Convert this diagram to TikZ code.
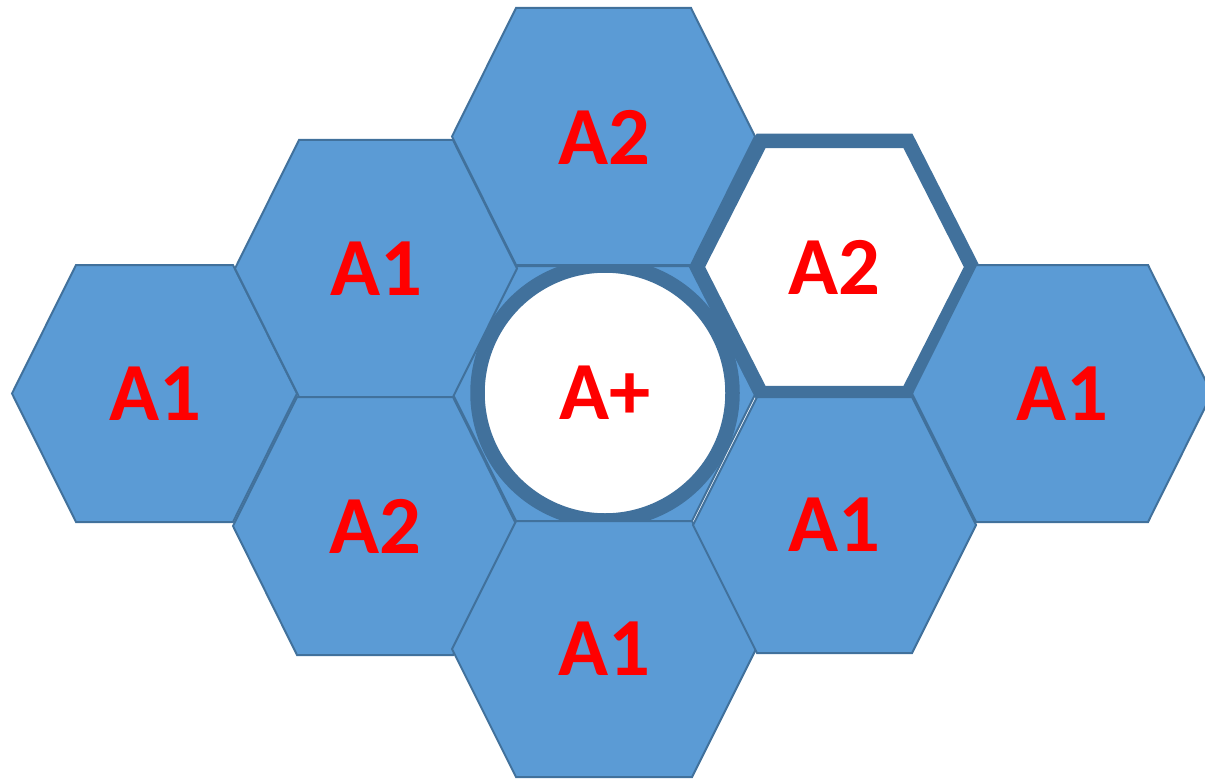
\documentclass[tikz,border=0pt]{standalone}
\usepackage{fontspec}
\setmainfont{Carlito}
\usepackage{tikz}

\definecolor{cellblue}{HTML}{5B9BD5}
\definecolor{edgeblue}{HTML}{41719C}
\definecolor{labred}{HTML}{FF0000}

\tikzset{
    cell/.style={draw=edgeblue, fill=cellblue, line width=0.4mm},
    marked/.style={draw=edgeblue, fill=white, line width=2.9mm},
    lab/.style={text=labred, inner sep=0pt,
        font=\fontsize{47}{48}\selectfont\bfseries}
}

% hexagon from its box: left, top, right, bottom
\newcommand{\hexcell}[5][cell]{%
    \draw[#1] (#2,{(#3+#5)/2}) -- (#2+64,#3) -- (#4-64,#3) -- (#4,{(#3+#5)/2})
        -- (#4-64,#5) -- (#2+64,#5) -- cycle;}

\begin{document}
\begin{tikzpicture}[x=0.2mm, y=-0.2mm]

\useasboundingbox (0,0) rectangle (1205,779);
\clip (0,0) rectangle (1205,779);

% middle cell with the ring
\hexcell{453}{266}{755}{523}
\draw[edgeblue, fill=white, line width=2.9mm] (605,393) circle (25.5mm);

% marked neighbour
\hexcell[marked]{697}{141}{972}{393}

% blue cells
\hexcell{12}{265}{297}{522}
\hexcell{235}{140}{517}{397}
\hexcell{233}{397}{517}{655}
\hexcell{452}{8}{755}{265}
\hexcell{452}{521}{756}{777}
\hexcell{693}{397}{976}{653}
\hexcell{912}{265}{1212}{522}

% labels
\node[lab] (mid) at (605,393) {A+};
\node[lab] (farw) at (155,394) {A1};
\node[lab] (nw) at (376,269) {A1};
\node[lab] (sw) at (375,526) {A2};
\node[lab] (n) at (604,137) {A2};
\node[lab] (ne) at (834,267) {A2};
\node[lab] (s) at (604,649) {A1};
\node[lab] (se) at (834,525) {A1};
\node[lab] (fare) at (1062,394) {A1};

\end{tikzpicture}
\end{document}
